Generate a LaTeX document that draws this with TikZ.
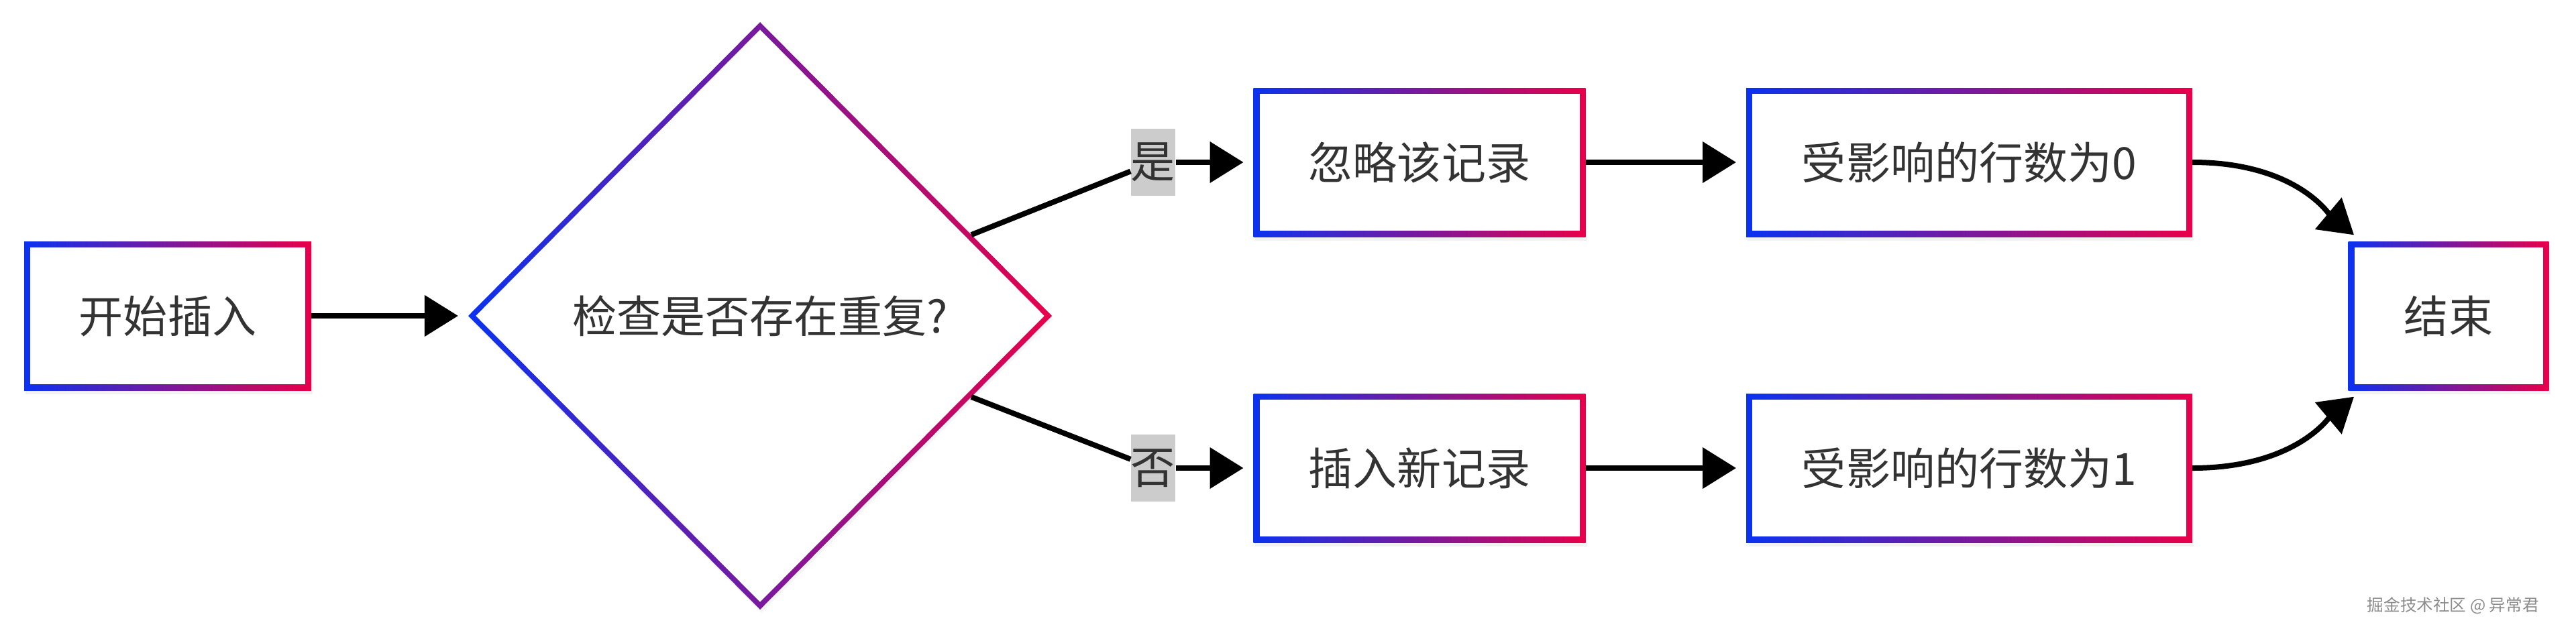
\documentclass[tikz,border=0pt]{standalone}
\usepackage{fontspec}
\setmainfont{Noto Sans CJK SC}
\usepackage{tikz}
\usetikzlibrary{
        arrows.meta,
        positioning,
        shadows,
        shapes.geometric
    }
\definecolor{flowblue}{HTML}{0A32F0}
\definecolor{flowred}{HTML}{E8004A}
\definecolor{flowtext}{HTML}{333333}
\tikzset{>={Triangle[length=0.5cm,width=0.6cm]},shorten >=0.15cm,node distance=2cm}
\tikzset{
    gradbox/.style={rectangle,inner sep=0pt,outer sep=0pt,
        minimum width=#1,minimum height=2.22cm,
        left color=flowblue,right color=flowred,
        text=flowtext,font=\fontsize{18.8pt}{22pt}\selectfont,
        drop shadow={opacity=0.1,shadow xshift=0.02cm,shadow yshift=-0.06cm},
        path picture={
            \fill[white] ([shift={(0.09cm,-0.09cm)}]path picture bounding box.north west)
                rectangle ([shift={(-0.09cm,0.09cm)}]path picture bounding box.south east);
        }},
    graddiamond/.style={diamond,inner sep=0pt,outer sep=0pt,
        minimum width=8.7cm,minimum height=8.76cm,
        left color=flowblue,right color=flowred,
        text=flowtext,font=\fontsize{18.8pt}{22pt}\selectfont,
        drop shadow={opacity=0.08,shadow xshift=0.02cm,shadow yshift=-0.05cm},
        path picture={
            \fill[white] ([yshift=-0.113cm]path picture bounding box.north)
                -- ([xshift=-0.113cm]path picture bounding box.east)
                -- ([yshift=0.113cm]path picture bounding box.south)
                -- ([xshift=0.113cm]path picture bounding box.west) -- cycle;
        }},
    answer/.style={fill=black!20,inner sep=0pt,minimum height=1cm,
        text=flowtext,font=\fontsize{18.8pt}{22pt}\selectfont},
    flow/.style={line width=0.08cm}
}

\begin{document}
\begin{tikzpicture}
    \useasboundingbox (0,0) rectangle (38.4,-9.43);
    \node[gradbox=4.28cm] (start) at (2.5,-4.71) {开始插入};
    \node[graddiamond] (check) [node distance=8.83cm,right of=start] {检查是否存在重复?};
    \node[gradbox=4.95cm] (skip) [node distance=9.83cm,right of=check,yshift=2.29cm] {忽略该记录};
    \node[gradbox=6.65cm] (rows0) [node distance=8.195cm,right of=skip] {受影响的行数为0};
    \node[gradbox=4.95cm] (insert) [node distance=9.83cm,right of=check,yshift=-2.27cm] {插入新记录};
    \node[gradbox=6.65cm] (rows1) [node distance=8.195cm,right of=insert] {受影响的行数为1};
    \node[gradbox=2.99cm] (end) [node distance=7.145cm,right of=rows0,yshift=-2.29cm] {结束};
    \node[answer] (yes) [node distance=5.86cm,right of=check,yshift=2.29cm] {是};
    \node[answer] (no) [node distance=5.86cm,right of=check,yshift=-2.27cm] {否};
    \path[->,flow]
        (start) edge (check)
        (check.21) edge[-,shorten >=0pt] (yes)
        (yes) edge (skip)
        (check.-21) edge[-,shorten >=0pt] (no)
        (no) edge (insert)
        (skip) edge (rows0)
        (insert) edge (rows1)
        (rows0) edge[out=0,in=140,out looseness=1.4,in looseness=0.6] ([xshift=0.2cm]end.north west)
        (rows1) edge[out=0,in=-140,out looseness=1.4,in looseness=0.6] ([xshift=0.2cm]end.south west)
    ;
    % watermark
    \node[anchor=east,text=black!45,font=\fontsize{7pt}{8pt}\selectfont] (wm) at (37.97,-9.03) {掘金技术社区 @ 异常君};
\end{tikzpicture}
\end{document}
